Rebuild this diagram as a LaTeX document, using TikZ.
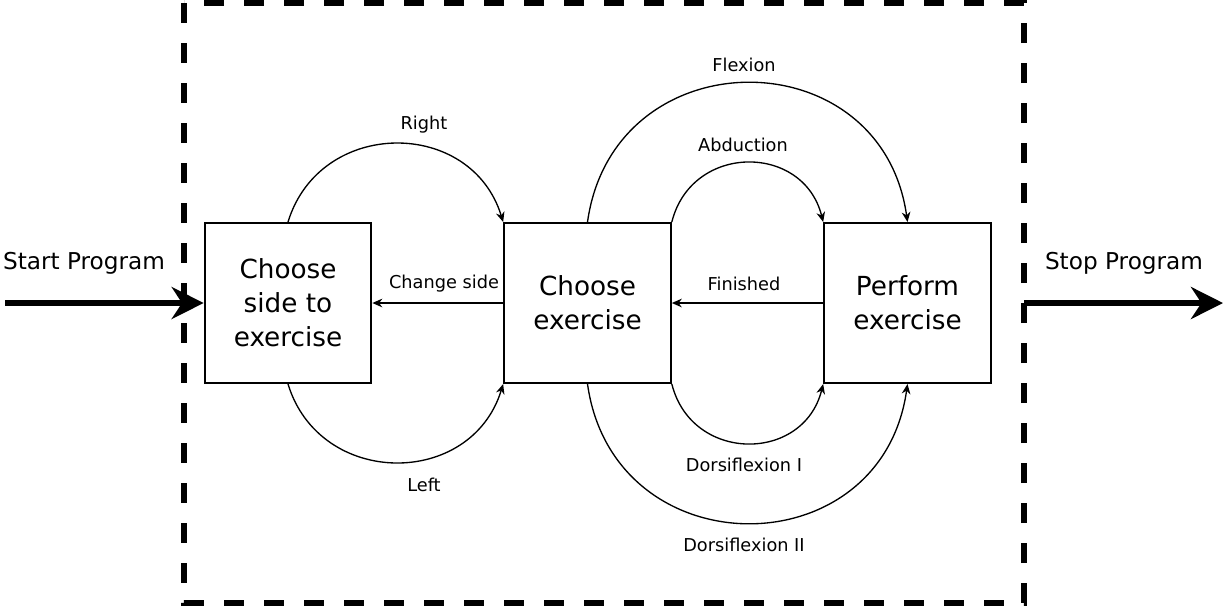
\documentclass[tikz,border=0pt]{standalone}
\usepackage{fontspec}
\setmainfont{DejaVu Sans}
\usetikzlibrary{arrows.meta}

\begin{document}
\begin{tikzpicture}[x=0.75pt,y=-0.75pt]
\useasboundingbox (0,0) rectangle (1226,608);
\draw[line width=4.5pt,dash pattern=on 15pt off 15pt] (184,3) rectangle (1024,603);

\begin{scope}[every node/.style={rectangle,draw,line width=1.5pt,inner sep=0pt,
              minimum width=125pt,minimum height=120pt,align=center,
              font=\fontsize{19.7}{25.5}\selectfont}]
    \node (side) at (288,303) {Choose\\side to\\exercise};
    \node (choose) at (587.5,303) {Choose\\exercise};
    \node (perform) at (907.5,303) {Perform\\exercise};
\end{scope}

\coordinate (start) at (5,303);
\coordinate (exit) at (1024,303);
\coordinate (stop) at (1223,303);

\begin{scope}[every node/.style={font=\fontsize{17.4}{20}\selectfont}]
    \node (startlabel) at (84,263) {Start Program};
    \node (stoplabel) at (1124,263) {Stop Program};
\end{scope}

\begin{scope}[every node/.style={font=\fontsize{13.3}{16}\selectfont}]
    \node (right) at (424,125) {Right};
    \node (left) at (424,485) {Left};
    \node (flexion) at (744,65) {Flexion};
    \node (abduction) at (743,145) {Abduction};
    \node (finished) at (744,284) {Finished};
    \node (changeside) at (444,284) {Change side};
    \node (dorsione) at (744,465) {Dorsiflexion I};
    \node (dorsitwo) at (744,545) {Dorsiflexion II};
\end{scope}

\begin{scope}[>={Stealth[length=7.5pt,width=6.5pt]},
              every edge/.style={draw=black,line width=1pt}]
    \path [->] (side.north) edge[out=73,in=107,looseness=1.3] (choose.north west);
    \path [->] (side.south) edge[out=-73,in=-107,looseness=1.3] (choose.south west);
    \path [->] (choose.north) edge[out=82,in=98,looseness=1.5] (perform.north);
    \path [->] (choose.north east) edge[out=76,in=104,looseness=1.38] (perform.north west);
    \path [->] (choose.south east) edge[out=-76,in=-104,looseness=1.38] (perform.south west);
    \path [->] (choose.south) edge[out=-82,in=-98,looseness=1.5] (perform.south);
    \path [->] (perform.west) edge (choose.east);
    \path [->] (choose.west) edge (side.east);
\end{scope}

\begin{scope}[>={Stealth[length=24pt,width=24pt]},
              every edge/.style={draw=black,line width=4.5pt}]
    \path [->] (start) edge (side.west);
    \path [->] (exit) edge (stop);
\end{scope}
\end{tikzpicture}
\end{document}
